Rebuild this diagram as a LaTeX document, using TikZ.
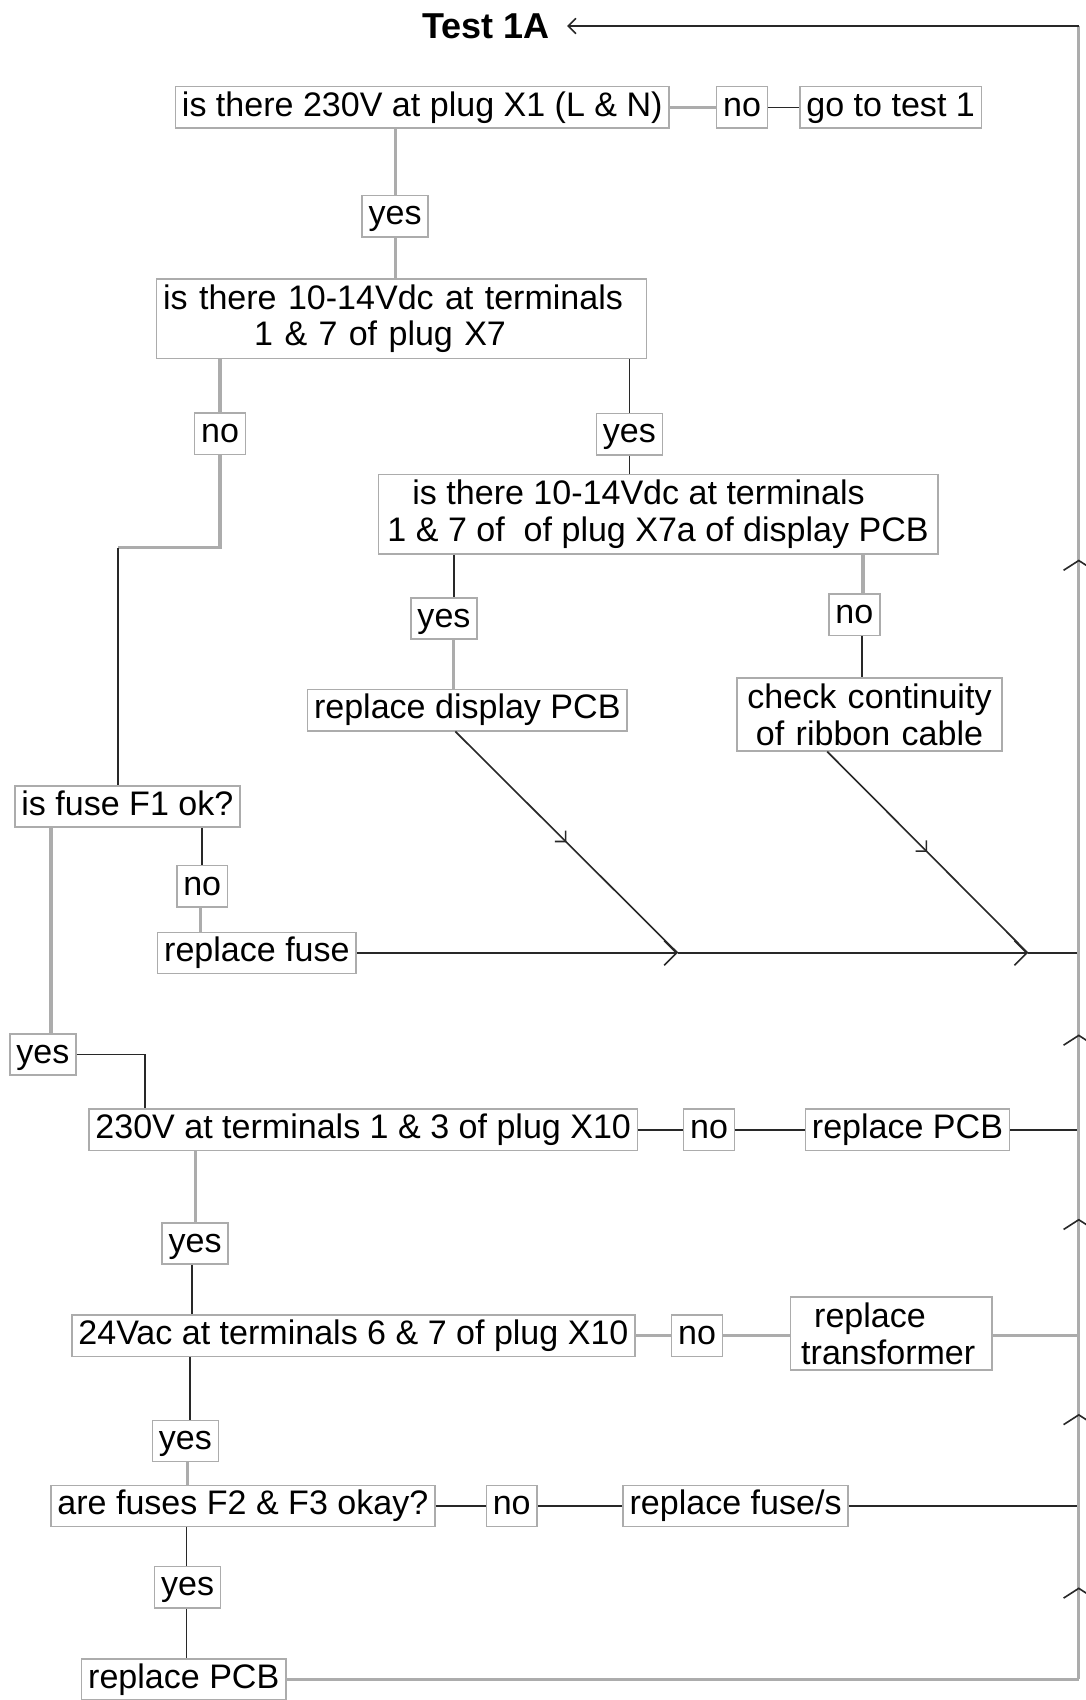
\documentclass[tikz,border=0pt]{standalone}
\usepackage{fontspec}
\setmainfont{Liberation Sans}
\usetikzlibrary{arrows.meta,positioning,calc,decorations.markings}
\definecolor{boxgray}{RGB}{172,172,172}
\definecolor{linedark}{RGB}{40,40,40}
\newcommand{\flowfont}{\fontsize{15.7}{17}\selectfont}

\begin{document}
\begin{tikzpicture}[x=0.5pt,y=-0.5pt,
  box/.style={draw=boxgray,line width=0.7pt,fill=white,font=\flowfont,inner xsep=3pt,inner ysep=2pt,text height=11.5pt,text depth=3.5pt},
  tallbox/.style={draw=boxgray,line width=0.7pt,fill=white,font=\flowfont,inner xsep=3pt,inner ysep=2.5pt},
  gline/.style={boxgray,line width=1.5pt},
  bline/.style={linedark,line width=0.75pt},
  midarrow/.style={decoration={markings,mark=at position 0.5 with {\arrow{Straight Barb[angle=90:5pt]}}},postaction={decorate}}]
  \useasboundingbox (0,0) rectangle (1001,1568);
  % ---------- nodes ----------
  \node[font=\fontsize{16.6}{20}\selectfont\bfseries,inner xsep=8pt] (title) at (448,24) {Test 1A};
  \node[box] (q1) at (389.5,99) {is there 230V at plug X1 (L \& N)};
  \node[box] (no1) at (684.5,99) {no};
  \node[box] (go1) at (821.5,99) {go to test 1};
  \node[box] (yes1) at (364.5,199.5) {yes};
  \node[tallbox,text width=220pt,align=left] (q2) at (370.5,294)
    {is there 10-14Vdc at terminals\\\hspace*{42pt}1 \& 7 of plug X7};
  \node[box] (no2) at (203,400) {no};
  \node[box] (yes2) at (580.5,400.5) {yes};
  \node[tallbox,align=left,minimum width=258pt] (q3) at (607,474.5)
    {\hspace*{11.5pt}is there 10-14Vdc at terminals\\1 \& 7 of\ \ of plug X7a of display PCB};
  \node[box] (yes3) at (409.5,570.5) {yes};
  \node[box] (no3) at (788,567) {no};
  \node[box] (rdisp) at (431,655) {replace display PCB};
  \node[tallbox,text width=116pt,align=center] (cont) at (802,659) {check continuity\\of ribbon cable};
  \node[box] (f1) at (117.5,744) {is fuse F1 ok?};
  \node[box] (no4) at (186.5,817.5) {no};
  \node[box] (rfuse) at (237,879) {replace fuse};
  \node[box] (yes4) at (39.5,972.5) {yes};
  \node[box] (q4) at (335,1042) {230V at terminals 1 \& 3 of plug X10};
  \node[box] (no5) at (654,1042) {no};
  \node[box] (rpcb1) at (837,1042) {replace PCB};
  \node[box] (yes5) at (180,1147) {yes};
  \node[box] (q5) at (326,1232) {24Vac at terminals 6 \& 7 of plug X10};
  \node[box] (no6) at (643,1232) {no};
  \node[tallbox,inner xsep=5pt,text width=83pt,align=left] (rtrans) at (822,1230)
    {\hspace*{6pt}replace\\transformer};
  \node[box] (yes6) at (171,1329) {yes};
  \node[box] (q6) at (224,1389) {are fuses F2 \& F3 okay?};
  \node[box] (no7) at (472,1389) {no};
  \node[box] (rfuses) at (678.5,1389) {replace fuse/s};
  \node[box] (yes7) at (173,1464) {yes};
  \node[box] (rpcb2) at (169.5,1549) {replace PCB};
  \coordinate (top) at (995,24);
  \coordinate (bend) at (109,505);
  \coordinate (j1) at (625,879);
  \coordinate (j2) at (948,879);
  % ---------- upper part ----------
  \draw[gline] (q1.south -| yes1.north) -- (yes1.north);
  \draw[gline] (yes1.south) -- (yes1.south |- q2.north);
  \draw[gline] (q1.east) -- (no1.west);
  \draw[bline] (no1.east) -- (go1.west);
  \draw[gline] (no2.north |- q2.south) -- (no2.north);
  \draw[gline] (no2.south) |- (bend);
  \draw[bline] (bend) -- (bend |- f1.north);
  \draw[bline] (yes2.north |- q2.south) -- (yes2.north);
  \draw[bline] (yes2.south) -- (yes2.south |- q3.north);
  \draw[bline] ([xshift=4.5pt]yes3.north |- q3.south) -- ([xshift=4.5pt]yes3.north);
  \draw[gline] ([xshift=4.5pt]yes3.south) -- ([xshift=4.5pt]yes3.south |- rdisp.north);
  \draw[gline] ([xshift=4pt]no3.north |- q3.south) -- ([xshift=4pt]no3.north);
  \draw[bline] ([xshift=3.5pt]no3.south) -- ([xshift=3.5pt]no3.south |- cont.north);
  \draw[bline,midarrow] ([xshift=-5.5pt]rdisp.south) -- (j1);
  \draw[bline,midarrow] ([xshift=-19.5pt]cont.south) -- (j2);
  % ---------- fuse F1 ----------
  \draw[bline] (no4.north |- f1.south) -- (no4.north);
  \draw[gline] ([xshift=-0.75pt]no4.south) -- ([xshift=-0.75pt]no4.south |- rfuse.north);
  \draw[bline,-{Straight Barb[angle=90:8pt]}] (rfuse.east) -- (j1);
  \draw[bline,-{Straight Barb[angle=90:8pt]}] (j1) -- (j2);
  \draw[bline] (j2) -- (j2 -| top);
  \draw[gline] ([xshift=3.75pt]yes4.north |- f1.south) -- ([xshift=3.75pt]yes4.north);
  \draw[bline] (yes4.east) -| ([xshift=-100.5pt]q4.north);
  % ---------- lower part ----------
  \draw[bline] (q4.east) -- (no5.west);
  \draw[bline] (no5.east) -- (rpcb1.west);
  \draw[bline] (rpcb1.east) -- (rpcb1.east -| top);
  \draw[gline] (yes5.north |- q4.south) -- (yes5.north);
  \draw[bline] ([xshift=-1.5pt]yes5.south) -- ([xshift=-1.5pt]yes5.south |- q5.north);
  \draw[gline] (q5.east) -- (no6.west);
  \draw[gline] (no6.east) -- (no6.east -| rtrans.west);
  \draw[gline] (rtrans.east |- q5.east) -- (q5.east -| top);
  \draw[bline] ([xshift=2pt]yes6.north |- q5.south) -- ([xshift=2pt]yes6.north);
  \draw[gline] ([xshift=1pt]yes6.south) -- ([xshift=1pt]yes6.south |- q6.north);
  \draw[bline] (q6.east) -- (no7.west);
  \draw[bline] (no7.east) -- (rfuses.west);
  \draw[bline] (rfuses.east) -- (rfuses.east -| top);
  \draw[bline] ([xshift=-0.5pt]yes7.north |- q6.south) -- ([xshift=-0.5pt]yes7.north);
  \draw[bline] ([xshift=-0.5pt]yes7.south) -- ([xshift=-0.5pt]yes7.south |- rpcb2.north);
  \draw[gline] (rpcb2.east) -- (rpcb2.east -| top);
  % ---------- return line ----------
  \draw[gline] (rpcb2.east -| top) -- (top);
  \draw[bline,-{Straight Barb[angle=90:5pt]}] (top) -- (title.east);
  \foreach \y in {517,955,1125,1305,1465}
    \draw[bline] (981,\y+9) -- (995,\y) -- (1009,\y+9);
\end{tikzpicture}
\end{document}
